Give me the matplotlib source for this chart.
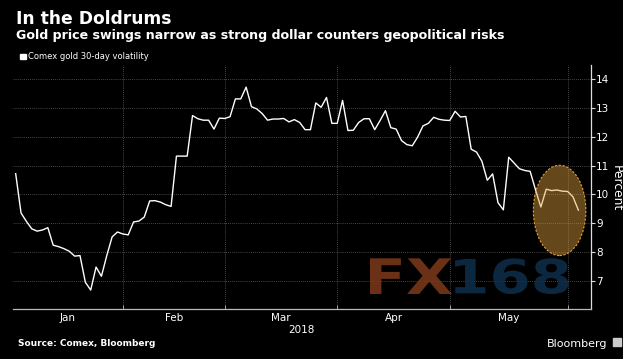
import numpy as np
import pandas as pd
import matplotlib
matplotlib.use('Agg')
import matplotlib.pyplot as plt
from matplotlib.patches import Ellipse, PathPatch, Rectangle
from matplotlib.textpath import TextPath
from matplotlib.font_manager import FontProperties
from matplotlib.transforms import Affine2D

# ── Datos ────────────────────────────────────────────────────────────────
HOLIDAYS = ['2018-01-15', '2018-02-19', '2018-03-30', '2018-05-28']
DATES = pd.bdate_range('2018-01-03', '2018-06-05', freq='C', holidays=HOLIDAYS)

VOL = [10.72, 9.35, 9.06, 8.80, 8.72, 8.76, 8.84, 8.23, 8.18, 8.11,
       8.02, 7.85, 7.87, 6.94, 6.67, 7.47, 7.15, 7.87, 8.52, 8.69,
       8.62, 8.59, 9.04, 9.07, 9.21, 9.77, 9.78, 9.73, 9.64, 9.58,
       11.33, 11.33, 11.33, 12.74, 12.63, 12.58, 12.58, 12.27, 12.65, 12.64,
       12.70, 13.32, 13.32, 13.73, 13.05, 12.97, 12.81, 12.58, 12.62, 12.62,
       12.64, 12.52, 12.60, 12.50, 12.25, 12.25, 13.18, 13.03, 13.37, 12.47,
       12.47, 13.27, 12.22, 12.23, 12.50, 12.63, 12.63, 12.25, 12.57, 12.91,
       12.32, 12.27, 11.87, 11.73, 11.69, 11.99, 12.38, 12.47, 12.68, 12.61,
       12.58, 12.57, 12.89, 12.69, 12.71, 11.57, 11.47, 11.15, 10.49, 10.71,
       9.71, 9.46, 11.29, 11.09, 10.89, 10.83, 10.80, 10.16, 9.56, 10.18,
       10.13, 10.15, 10.11, 10.10, 9.91, 9.45]

MONTHS = ['Jan', 'Feb', 'Mar', 'Apr', 'May']
Y_TICKS = [7, 8, 9, 10, 11, 12, 13, 14]

TITLE = 'In the Doldrums'
SUBTITLE = 'Gold price swings narrow as strong dollar counters geopolitical risks'
LEGEND = 'Comex gold 30-day volatility'
SOURCE = 'Source: Comex, Bloomberg'

# ── Figura ───────────────────────────────────────────────────────────────
W, H = 623, 359
BG = '#000000'
fig = plt.figure(figsize=(W / 100, H / 100), dpi=100, facecolor=BG)
ax = fig.add_axes([13 / W, 1 - 309.3 / H, 577.7 / W, 244.3 / H], facecolor=BG)

x = np.arange(len(VOL))
XMIN, XMAX = -0.5, 107.3
ax.set_xlim(XMIN, XMAX)
ax.set_ylim(6, 14.5)

# primer día de cada mes (posiciones en el eje de días hábiles)
month_idx = pd.Series(x, index=DATES).groupby(DATES.month).first().values
bounds = list(month_idx[1:])                      # Feb, Mar, Apr, May, Jun
edges = [XMIN] + bounds
centers = [(a + b) / 2 for a, b in zip(edges[:-1], edges[1:])]

# rejilla
for yv in Y_TICKS:
    ax.axhline(yv, color='#5e5e5e', lw=0.6, ls=(0, (1, 1.5)), zorder=1)
for xv in bounds:
    ax.axvline(xv, color='#5e5e5e', lw=0.6, ls=(0, (1, 1.5)), zorder=1)

ax.plot(x, VOL, color='white', lw=1.0, zorder=3)

# elipse de énfasis
ax.add_patch(Ellipse((101.5, 9.44), 9.8, 3.14, facecolor='#e0a040',
                     alpha=0.45, edgecolor='none', zorder=4))
ax.add_patch(Ellipse((101.5, 9.44), 9.8, 3.14, facecolor='none',
                     edgecolor='#e8a030', lw=0.8, ls=(0, (2, 1.5)), zorder=4))

# ejes
for s in ['top', 'left']:
    ax.spines[s].set_visible(False)
ax.spines['bottom'].set_color('#bbbbbb')
ax.spines['bottom'].set_linewidth(0.9)
ax.spines['right'].set_color('#dddddd')
ax.spines['right'].set_linewidth(0.9)

ax.yaxis.tick_right()
ax.set_yticks(Y_TICKS)
ax.set_yticklabels([str(v) for v in Y_TICKS])
ax.tick_params(axis='y', colors='#dddddd', labelcolor='white', length=3,
               width=0.8, pad=1, labelsize=7.5)

ax.set_xticks(centers)
ax.set_xticklabels(MONTHS)
ax.set_xticks(bounds, minor=True)
ax.tick_params(axis='x', which='major', length=0, pad=2.5,
               labelcolor='white', labelsize=7.5)
ax.tick_params(axis='x', which='minor', length=3, direction='in',
               color='#bbbbbb', width=0.6)

ax.text(0.5, -0.098, '2018', transform=ax.transAxes, ha='center',
        va='baseline', color='white', fontsize=7.5)

# ── Textos ───────────────────────────────────────────────────────────────
fig.text(15.7 / W, 1 - 24.5 / H, TITLE, color='white', fontsize=12.3,
         fontweight='bold', va='baseline', ha='left')
fig.text(15.7 / W, 1 - 39.3 / H, SUBTITLE, color='white', fontsize=9.05,
         fontweight='bold', va='baseline', ha='left')
fig.patches.append(Rectangle((20 / W, 1 - 59.3 / H), 5.7 / W, 5 / H,
                             transform=fig.transFigure, color='white'))
fig.text(28 / W, 1 - 59.3 / H, LEGEND, color='white', fontsize=6,
         va='baseline', ha='left')
fig.text(616.5 / W, 1 - 188 / H, 'Percent', color='white', fontsize=8.8,
         rotation=270, ha='center', va='center')
fig.text(18.3 / W, 1 - 346.3 / H, SOURCE, color='white', fontsize=6.5,
         fontweight='bold', va='baseline', ha='left')
fig.text(607.7 / W, 1 - 346.7 / H, 'Bloomberg', color='white', fontsize=8,
         va='baseline', ha='right')
fig.patches.append(Rectangle((613 / W, 1 - 346 / H), 8 / W, 8 / H,
                             transform=fig.transFigure, color='#cccccc'))

# ── Marca de agua FX168 ──────────────────────────────────────────────────
fp = FontProperties(family='DejaVu Sans', weight='bold')


def watermark(txt, x0, x1, y0, y1, color):
    path = TextPath((0, 0), txt, size=10, prop=fp)
    ext = path.get_extents()
    tr = (Affine2D().translate(-ext.x0, -ext.y0)
          .scale((x1 - x0) / ext.width, (y1 - y0) / ext.height)
          .translate(x0, H - y1)
          .scale(1 / W, 1 / H))
    fig.patches.append(PathPatch(tr.transform_path(path), facecolor=color,
                                 edgecolor='none', alpha=0.85,
                                 transform=fig.transFigure, zorder=5))


watermark('FX', 370, 451.7, 258.3, 294, '#7e3a1a')
watermark('168', 455, 568.3, 258.3, 294, '#0f2f4c')

fig.savefig('out.png', dpi=100, facecolor=BG)
